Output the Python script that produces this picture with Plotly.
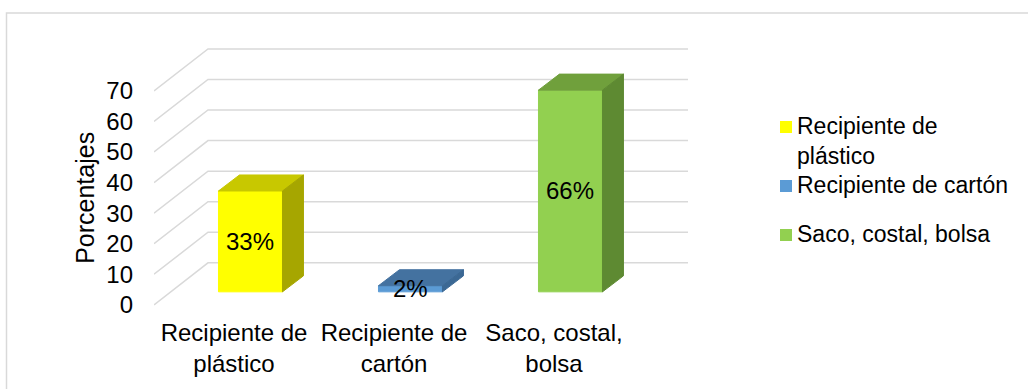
import plotly.graph_objects as go

# Data
categories = ["Recipiente de<br>plástico", "Recipiente de<br>cartón", "Saco, costal,<br>bolsa"]
legend_names = ["Recipiente de<br>plástico", "Recipiente de cartón", "Saco, costal, bolsa"]
values = [33, 2, 66]
y_ticks = [0, 10, 20, 30, 40, 50, 60, 70]

# Face colours per series: front, top, side
front_colors = ["#FFFF00", "#5B9BD5", "#92D050"]
top_colors = ["#C8C800", "#4472A0", "#70A03C"]
side_colors = ["#A6A600", "#3B6894", "#5E8A32"]

FONT = "Liberation Sans, Arial, sans-serif"
W, H = 1028, 389
M_L, M_R, M_T, M_B = 154, 330, 42, 75

# Oblique projection of the 3-D box (axis units)
WALL_DX, WALL_DY = 0.3375, 13.74      # full depth from front plane to back wall
BAR_DX0, BAR_DY0 = 0.103, 4.25        # bar front face offset from front plane
BAR_DX, BAR_DY = 0.131, 5.24          # depth of each bar
BAR_HALF = 0.2                        # half width of a bar's front face
X_LEFT, X_RIGHT = -0.5, 2.5


def px_to_paper_x(px):
    return (px - M_L) / (W - M_L - M_R)


def px_to_paper_y(py):
    return (H - M_B - py) / (H - M_T - M_B)


fig = go.Figure()

# Side-wall and back-wall gridlines
for v in y_ticks:
    fig.add_trace(go.Scatter(
        x=[X_LEFT, X_LEFT + WALL_DX, X_RIGHT + WALL_DX],
        y=[v, v + WALL_DY, v + WALL_DY],
        mode="lines", line=dict(color="#D9D9D9", width=1.5),
        hoverinfo="skip", showlegend=False))

# 3-D columns
for i, v in enumerate(values):
    cx = i + BAR_DX0
    x0, x1 = cx - BAR_HALF, cx + BAR_HALF
    y0, y1 = BAR_DY0, BAR_DY0 + v
    faces = [
        ([x0, x1, x1, x0, x0], [y0, y0, y1, y1, y0], front_colors[i]),
        ([x0, x1, x1 + BAR_DX, x0 + BAR_DX, x0],
         [y1, y1, y1 + BAR_DY, y1 + BAR_DY, y1], top_colors[i]),
        ([x1, x1 + BAR_DX, x1 + BAR_DX, x1, x1],
         [y0, y0 + BAR_DY, y1 + BAR_DY, y1, y0], side_colors[i]),
    ]
    for fx, fy, col in faces:
        fig.add_trace(go.Scatter(
            x=fx, y=fy, mode="lines", fill="toself", fillcolor=col,
            line=dict(color=col, width=1), hoverinfo="skip", showlegend=False))
    fig.add_annotation(x=cx, y=y0 + v / 2, text=f"{v}%", showarrow=False,
                       font=dict(size=24, color="black", family=FONT))

# Legend: coloured squares with wrapped labels
LEGEND_SWATCH_X = 786
LEGEND_TEXT_X = 796
LEGEND_ROW_Y = [127, 186, 235]
LEGEND_FONT = 23
for i, name in enumerate(legend_names):
    yc = LEGEND_ROW_Y[i]
    fig.add_shape(type="rect", xref="paper", yref="paper",
                  x0=px_to_paper_x(LEGEND_SWATCH_X - 6), x1=px_to_paper_x(LEGEND_SWATCH_X + 6),
                  y0=px_to_paper_y(yc + 6), y1=px_to_paper_y(yc - 6),
                  line=dict(width=0), fillcolor=front_colors[i])
    # top of the first text line sits half a line above the swatch centre
    fig.add_annotation(xref="paper", yref="paper",
                       x=px_to_paper_x(LEGEND_TEXT_X),
                       y=px_to_paper_y(yc - LEGEND_FONT * 0.65),
                       xanchor="left", yanchor="top", align="left", text=name,
                       showarrow=False, borderpad=0,
                       font=dict(size=LEGEND_FONT, color="black", family=FONT))

# Axis title on the front plane
fig.add_annotation(x=px_to_paper_x(85), xref="paper", xanchor="center",
                   y=(y_ticks[0] + y_ticks[-1]) / 2, yanchor="middle",
                   text="Porcentajes", textangle=-90, showarrow=False,
                   font=dict(size=25, color="black", family=FONT))

# Outer chart border
fig.add_shape(type="rect", xref="paper", yref="paper",
              x0=px_to_paper_x(6.5), x1=px_to_paper_x(W + 20),
              y0=px_to_paper_y(H + 20), y1=px_to_paper_y(13),
              line=dict(color="#D9D9D9", width=1.5), fillcolor="rgba(0,0,0,0)")

fig.update_layout(
    width=W, height=H,
    margin=dict(l=M_L, r=M_R, t=M_T, b=M_B),
    paper_bgcolor="white", plot_bgcolor="white",
    font=dict(family=FONT, size=24, color="black"),
    xaxis=dict(range=[-0.5, 2.9], tickvals=[0, 1, 2], ticktext=categories,
               showgrid=False, zeroline=False, showline=False, ticks="",
               ticklabelstandoff=2, tickfont=dict(size=24)),
    yaxis=dict(range=[-3, 86], tickvals=y_ticks, showgrid=False, zeroline=False,
               showline=False, ticks="", ticklabelstandoff=20,
               tickfont=dict(size=24)),
    showlegend=False,
)

fig.write_html("out.html")
